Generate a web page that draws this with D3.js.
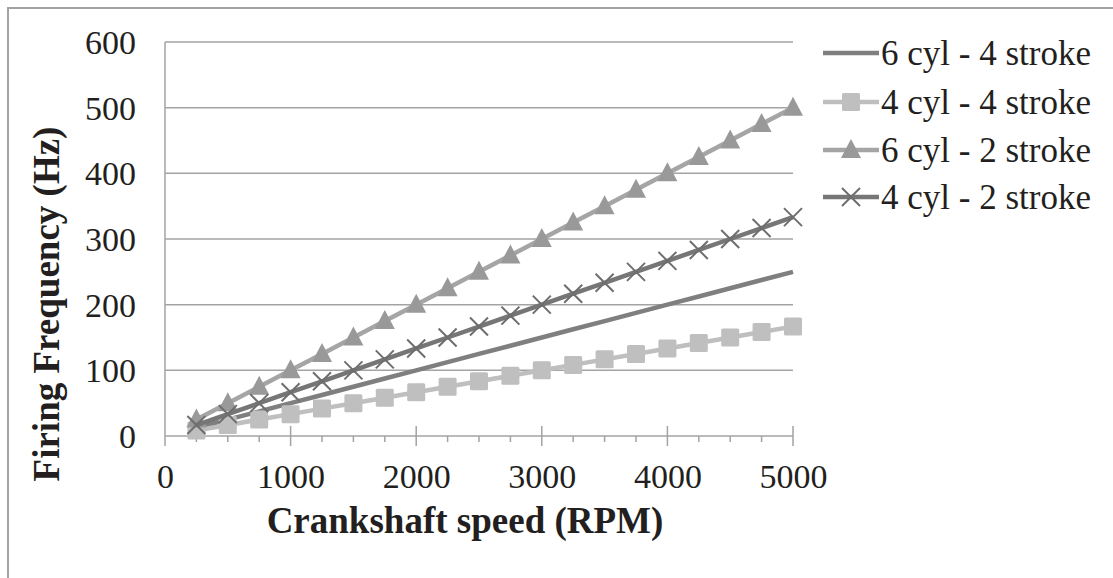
<!DOCTYPE html>
<html>
<head>
<meta charset="utf-8">
<script src="https://cdn.jsdelivr.net/npm/d3@7"></script>
<style>
  body { margin: 0; background: #fff; }
  text { font-family: "Liberation Serif", "Times New Roman", serif; fill: #231f20; }
</style>
</head>
<body>
<div id="chart"></div>
<script>
// crankshaft speed (RPM)
var rpm = [250, 500, 750, 1000, 1250, 1500, 1750, 2000, 2250, 2500, 2750, 3000, 3250, 3500, 3750, 4000, 4250, 4500, 4750, 5000];
// firing frequency (Hz)
var sixCylFour = [12.5, 25, 37.5, 50, 62.5, 75, 87.5, 100, 112.5, 125, 137.5, 150, 162.5, 175, 187.5, 200, 212.5, 225, 237.5, 250];
var fourCylFour = [8.3, 16.7, 25, 33.3, 41.7, 50, 58.3, 66.7, 75, 83.3, 91.7, 100, 108.3, 116.7, 125, 133.3, 141.7, 150, 158.3, 166.7];
var sixCylTwo = [25, 50, 75, 100, 125, 150, 175, 200, 225, 250, 275, 300, 325, 350, 375, 400, 425, 450, 475, 500];
var fourCylTwo = [16.7, 33.3, 50, 66.7, 83.3, 100, 116.7, 133.3, 150, 166.7, 183.3, 200, 216.7, 233.3, 250, 266.7, 283.3, 300, 316.7, 333.3];
var seriesNames = ["6 cyl - 4 stroke", "4 cyl - 4 stroke", "6 cyl - 2 stroke", "4 cyl - 2 stroke"];
var xTicks = [0, 1000, 2000, 3000, 4000, 5000];
var yTicks = [0, 100, 200, 300, 400, 500, 600];

var svgWidth = 1113;
var svgHeight = 578;

var svg = d3.select("#chart")
  .append("svg")
  .attr("width", svgWidth)
  .attr("height", svgHeight);

// chart area frame (cropped at right and bottom)
svg.append("rect")
  .attr("x", 8).attr("y", 8)
  .attr("width", 1300).attr("height", 800)
  .attr("fill", "none")
  .attr("stroke", "#a3a3a3")
  .attr("stroke-width", 2);

var x = d3.scaleLinear().domain([0, 5000]).range([165, 793]);
var y = d3.scaleLinear().domain([0, 600]).range([436, 42]);

// gridlines
svg.append("g")
  .selectAll("line")
  .data(yTicks.slice(1))
  .enter()
  .append("line")
  .attr("x1", x(0)).attr("x2", x(5000))
  .attr("y1", d => y(d)).attr("y2", d => y(d))
  .attr("stroke", "#a3a3a3")
  .attr("stroke-width", 1.5);

// y axis
var leftAxis = d3.axisLeft(y).tickValues(yTicks).tickSize(0).tickPadding(29).tickFormat(d3.format("d"));
var gy = svg.append("g")
  .attr("transform", `translate(${x(0)},0)`)
  .call(leftAxis);
gy.select(".domain").remove();
gy.selectAll("text").style("font-size", "34px").attr("dy", "0.34em");

svg.append("line")
  .attr("x1", x(0)).attr("x2", x(0))
  .attr("y1", y(600)).attr("y2", y(0) + 10)
  .attr("stroke", "#a3a3a3").attr("stroke-width", 1.5);

// x axis with minor ticks
svg.append("line")
  .attr("x1", x(0)).attr("x2", x(5000))
  .attr("y1", y(0)).attr("y2", y(0))
  .attr("stroke", "#a3a3a3").attr("stroke-width", 1.5);

svg.append("g")
  .selectAll("line")
  .data(rpm)
  .enter()
  .append("line")
  .attr("x1", d => x(d)).attr("x2", d => x(d))
  .attr("y1", d => d % 1000 === 0 ? y(0) - 10 : y(0))
  .attr("y2", d => d % 1000 === 0 ? y(0) + 10 : y(0) + 6)
  .attr("stroke", "#a3a3a3").attr("stroke-width", 1.5);

var bottomAxis = d3.axisBottom(x).tickValues(xTicks).tickSize(0).tickFormat(d3.format("d"));
var gx = svg.append("g")
  .attr("transform", `translate(0,${y(0)})`)
  .call(bottomAxis);
gx.select(".domain").remove();
gx.selectAll("text").style("font-size", "34px").attr("y", 52).attr("dy", null);

// axis titles
svg.append("text")
  .attr("x", 465).attr("y", 533)
  .attr("text-anchor", "middle")
  .style("font-size", "37px").style("font-weight", "bold")
  .text("Crankshaft speed (RPM)");

svg.append("text")
  .attr("transform", "translate(59,304) rotate(-90)")
  .attr("text-anchor", "middle")
  .style("font-size", "37px").style("font-weight", "bold")
  .text("Firing Frequency (Hz)");

// series
var series = [
  { name: seriesNames[0], values: sixCylFour, line: "#7f7f7f", mark: "none", fill: "#7f7f7f" },
  { name: seriesNames[1], values: fourCylFour, line: "#bfbfbf", mark: "square", fill: "#bfbfbf" },
  { name: seriesNames[2], values: sixCylTwo, line: "#a5a5a5", mark: "triangle", fill: "#999999" },
  { name: seriesNames[3], values: fourCylTwo, line: "#767676", mark: "cross", fill: "#6e6e6e" }
];

var line = d3.line()
  .x((d, i) => x(rpm[i]))
  .y(d => y(d));

function drawMarker(g, s, cx, cy) {
  if (s.mark === "square") {
    g.append("rect")
      .attr("x", cx - 9).attr("y", cy - 9)
      .attr("width", 18).attr("height", 18)
      .attr("rx", 1.5)
      .attr("fill", s.fill);
  } else if (s.mark === "triangle") {
    g.append("path")
      .attr("d", `M${cx},${cy - 11}L${cx + 10},${cy + 8}L${cx - 10},${cy + 8}Z`)
      .attr("fill", s.fill);
  } else if (s.mark === "cross") {
    g.append("path")
      .attr("d", `M${cx - 9},${cy - 9}L${cx + 9},${cy + 9}M${cx + 9},${cy - 9}L${cx - 9},${cy + 9}`)
      .attr("stroke", s.fill)
      .attr("stroke-width", 2);
  }
}

series.forEach(function(s) {
  var g = svg.append("g");
  g.append("path")
    .datum(s.values)
    .attr("d", line)
    .attr("fill", "none")
    .attr("stroke", s.line)
    .attr("stroke-width", 4.5)
    .attr("stroke-linejoin", "round");
  s.values.forEach(function(v, i) {
    drawMarker(g, s, x(rpm[i]), y(v));
  });
});

// legend
var legendY = [53, 102, 150, 197];
series.forEach(function(s, i) {
  var g = svg.append("g");
  g.append("line")
    .attr("x1", 823).attr("x2", 879)
    .attr("y1", legendY[i]).attr("y2", legendY[i])
    .attr("stroke", s.line).attr("stroke-width", 4.5);
  drawMarker(g, s, 851, legendY[i]);
  g.append("text")
    .attr("x", 881).attr("y", legendY[i])
    .attr("dy", "0.34em")
    .style("font-size", "35px")
    .text(s.name);
});
</script>
</body>
</html>
